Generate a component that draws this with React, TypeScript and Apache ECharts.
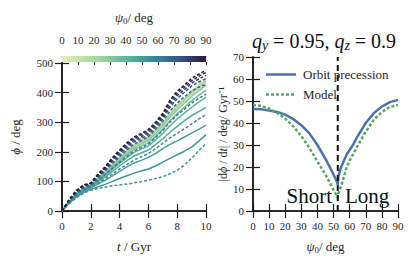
import React, { useEffect, useRef } from "react";
import * as echarts from "echarts";

// ---------- data ----------
const timeGyr = [0, 0.5, 1, 1.5, 2, 2.5, 3, 3.5, 4, 4.5, 5, 5.5, 6, 6.5, 7, 7.5, 8, 8.5, 9, 9.5, 10];

const psi0Values = [2, 9, 16, 23, 30, 36, 42, 46, 49, 51.5, 54, 57, 62, 68, 74, 80, 85, 90];

const phiCurves = [
  [0, 32, 59, 75, 87, 107, 128, 151, 173, 195, 215, 227, 240, 263, 288, 318, 343, 366, 390, 412, 432],
  [0, 32, 60, 76, 88, 109, 131, 154, 177, 199, 219, 232, 245, 268, 294, 325, 351, 374, 398, 420, 440],
  [0, 33, 60, 76, 89, 110, 133, 157, 180, 202, 223, 236, 249, 273, 299, 330, 357, 380, 404, 425, 445],
  [0, 33, 60, 76, 88, 109, 131, 155, 178, 200, 220, 233, 246, 270, 295, 325, 351, 374, 398, 419, 438],
  [0, 32, 59, 75, 87, 107, 128, 151, 173, 194, 214, 226, 239, 262, 287, 317, 342, 364, 387, 407, 425],
  [0, 31, 57, 73, 86, 105, 125, 147, 168, 189, 208, 219, 231, 253, 277, 305, 329, 350, 372, 391, 408],
  [0, 30, 56, 72, 84, 102, 121, 141, 161, 180, 198, 209, 220, 240, 262, 288, 311, 331, 350, 368, 385],
  [0, 29, 54, 70, 82, 98, 115, 134, 152, 170, 186, 196, 206, 224, 244, 266, 286, 305, 322, 336, 350],
  [0, 28, 51, 67, 78, 91, 104, 119, 134, 149, 162, 171, 181, 195, 211, 225, 237, 250, 263, 276, 290],
  [0, 27, 48, 63, 73, 82, 90, 100, 110, 119, 128, 135, 142, 152, 165, 178, 190, 202, 216, 236, 258],
  [0, 25, 45, 60, 70, 76, 81, 85, 88, 91, 95, 99, 104, 110, 116, 126, 138, 155, 178, 204, 228],
  [0, 28, 52, 68, 80, 94, 109, 125, 142, 157, 172, 183, 194, 211, 229, 247, 262, 278, 294, 311, 325],
  [0, 31, 57, 73, 86, 104, 124, 145, 165, 184, 202, 214, 226, 248, 272, 301, 324, 344, 364, 381, 395],
  [0, 34, 61, 78, 90, 112, 135, 160, 183, 206, 226, 238, 251, 276, 303, 338, 364, 386, 405, 418, 428],
  [0, 36, 64, 82, 92, 116, 139, 166, 190, 213, 233, 245, 258, 283, 311, 350, 380, 401, 422, 436, 447],
  [0, 37, 66, 85, 93, 119, 142, 171, 196, 219, 239, 251, 264, 289, 317, 358, 390, 410, 432, 446, 458],
  [0, 38, 68, 86, 94, 122, 146, 176, 201, 225, 245, 257, 270, 295, 324, 367, 398, 418, 440, 455, 468],
  [0, 40, 70, 88, 95, 125, 150, 180, 206, 230, 250, 262, 275, 300, 330, 375, 405, 425, 448, 462, 476],
];

const psiSplit = 52.6;

const precessionPsi = [0, 5, 10, 15, 20, 25, 30, 35, 40, 45, 48, 50, 52, 52.6, 53, 54, 55, 58, 60, 62, 65, 70, 75, 80, 85, 90];
const precessionRate = [46.4, 46.2, 45.7, 45, 43.8, 41.8, 39, 35.3, 30, 23.7, 19.5, 16.5, 13.5, 12, 15.5, 18.5, 20.5, 25.5, 27.7, 30, 34, 40, 44.5, 47.5, 49.5, 50.5];

const modelPsi = [0, 5, 10, 15, 20, 25, 30, 35, 40, 45, 48, 50, 52, 52.6, 53, 55, 58, 60, 65, 70, 75, 80, 85, 90];
const modelRate = [48.2, 47.8, 46.6, 44.6, 42, 38.5, 34, 28.7, 22.5, 16.5, 12.5, 9.5, 7, 6, 8, 12, 19.5, 23, 29.7, 36, 41.5, 45, 47.3, 48.2];

const seriesNames = ["Orbit precession", "Model"];
const regionLabels = ["Short", "Long"];

// ---------- styling ----------
const serif = "Liberation Serif";
const ink = "#1f1f1f";
const cmapStops: [number, string][] = [
  [0, "#e1eabe"],
  [0.15, "#c0e0aa"],
  [0.3, "#95cd9c"],
  [0.45, "#62b49a"],
  [0.55, "#469d98"],
  [0.65, "#3c8296"],
  [0.78, "#37608b"],
  [0.9, "#303a6a"],
  [1, "#281a3a"],
];

function hexToRgb(h: string) {
  const n = parseInt(h.slice(1), 16);
  return [(n >> 16) & 255, (n >> 8) & 255, n & 255];
}
function cmap(f: number) {
  for (let i = 1; i < cmapStops.length; i++) {
    const [p1, c1] = cmapStops[i];
    const [p0, c0] = cmapStops[i - 1];
    if (f <= p1) {
      const r = (f - p0) / (p1 - p0);
      const a = hexToRgb(c0);
      const b = hexToRgb(c1);
      const m = a.map((v, k) => Math.round(v + (b[k] - v) * r));
      return `rgb(${m[0]},${m[1]},${m[2]})`;
    }
  }
  return cmapStops[cmapStops.length - 1][1];
}

const labelStyle = { fontFamily: serif, fontSize: 11, color: ink };
const nameRich = {
  i: { fontFamily: serif, fontSize: 13, fontStyle: "italic", color: ink },
  s: { fontFamily: serif, fontSize: 9, color: ink, padding: [6, 0, 0, 0] },
  n: { fontFamily: serif, fontSize: 13, color: ink },
};
const nameStyle = { fontFamily: serif, fontSize: 13, color: ink, rich: nameRich };

function valueAxis(extra: any) {
  return {
    type: "value",
    axisLine: { show: true, lineStyle: { color: ink, width: 1.6 } },
    axisTick: { show: true, inside: true, length: 7, lineStyle: { color: ink, width: 1.2 } },
    axisLabel: { ...labelStyle, margin: 9 },
    splitLine: { show: false },
    ...extra,
  };
}

const solidIcon = "path://M0,0H30V2.5H0Z";
const dashIcon = "path://M0,0H3V2.5H0Z M5,0H8V2.5H5Z M10,0H13V2.5H10Z M15,0H18V2.5H15Z M20,0H23V2.5H20Z M25,0H28V2.5H25Z M30,0H30.01V2.5H30Z";

export default function App() {
  const ref = useRef<HTMLDivElement>(null);
  useEffect(() => {
    if (!ref.current) return;
    const chart = echarts.init(ref.current, undefined, { renderer: "svg" });

    const curveSeries = psi0Values.map((psi, idx) => ({
      type: "line",
      xAxisIndex: 0,
      yAxisIndex: 0,
      symbol: "none",
      silent: true,
      data: timeGyr.map((t, k) => [t, phiCurves[idx][k]]),
      lineStyle: {
        color: cmap(psi / 90),
        width: 1.5,
        type: psi > psiSplit ? [3, 2] : "solid",
      },
      z: 2,
    }));

    const gradient = new echarts.graphic.LinearGradient(
      0, 0, 1, 0,
      cmapStops.map(([o, c]) => ({ offset: o, color: c }))
    );

    const option: any = {
      animation: false,
      textStyle: { fontFamily: serif },
      grid: [
        { left: 62, top: 63, width: 144, height: 148 },
        { left: 62, top: 56, width: 144, height: 6 },
        { left: 253, top: 57, width: 145, height: 154 },
      ],
      xAxis: [
        valueAxis({
          gridIndex: 0, min: 0, max: 10, interval: 2, position: "bottom",
          name: "{i|t}{n| / Gyr}", nameLocation: "middle", nameGap: 29, nameTextStyle: nameStyle,
        }),
        valueAxis({ gridIndex: 0, min: 0, max: 10, interval: 2, position: "top", axisLabel: { show: false } }),
        {
          type: "value", gridIndex: 1, min: 0, max: 90, interval: 10, position: "top",
          axisLine: { show: true, lineStyle: { color: ink, width: 0.8 } },
          axisTick: { show: false },
          axisLabel: { ...labelStyle, margin: 11 },
          splitLine: { show: false },
          name: "{i|ψ}{s|0}{n|/ deg}", nameLocation: "middle", nameGap: 31, nameTextStyle: nameStyle,
        },
        {
          type: "value", gridIndex: 1, min: 0, max: 90, interval: 10, position: "bottom",
          axisLine: { show: false },
          axisTick: { show: true, inside: false, length: 3, lineStyle: { color: ink, width: 1 } },
          axisLabel: { show: false },
          splitLine: { show: false },
        },
        valueAxis({
          gridIndex: 2, min: 0, max: 90, interval: 10, position: "bottom",
          name: "{i|ψ}{s|0}{n|/ deg}", nameLocation: "middle", nameGap: 28, nameTextStyle: nameStyle,
        }),
        valueAxis({ gridIndex: 2, min: 0, max: 90, interval: 10, position: "top", axisLabel: { show: false } }),
      ],
      yAxis: [
        valueAxis({
          gridIndex: 0, min: 0, max: 500, interval: 100, position: "left",
          name: "{i|ϕ}{n| / deg}", nameLocation: "middle", nameGap: 40, nameRotate: 90, nameTextStyle: nameStyle,
        }),
        valueAxis({ gridIndex: 0, min: 0, max: 500, interval: 100, position: "right", axisLabel: { show: false } }),
        { type: "category", gridIndex: 1, data: ["cb"], show: false },
        valueAxis({
          gridIndex: 2, min: 0, max: 70, interval: 10, position: "left",
          name: "{m||d}{j|ϕ}{m| / d}{j|t}{m|| / deg/ Gyr⁻¹}", nameLocation: "middle", nameGap: 24, nameRotate: 90,
          nameTextStyle: {
            fontFamily: serif, fontSize: 12, color: ink,
            rich: {
              m: { fontFamily: serif, fontSize: 12, color: ink },
              j: { fontFamily: serif, fontSize: 12, fontStyle: "italic", color: ink },
            },
          },
        }),
        valueAxis({ gridIndex: 2, min: 0, max: 70, interval: 10, position: "right", axisLabel: { show: false } }),
      ],
      legend: {
        data: [
          { name: seriesNames[0], icon: solidIcon },
          { name: seriesNames[1], icon: dashIcon },
        ],
        orient: "vertical",
        left: 261,
        top: 63,
        itemWidth: 30,
        itemHeight: 12,
        itemGap: 7,
        textStyle: { fontFamily: serif, fontSize: 13, color: ink, padding: [0, 0, 0, 2] },
      },
      series: [
        ...curveSeries,
        {
          type: "bar",
          xAxisIndex: 2,
          yAxisIndex: 2,
          data: [90],
          barWidth: "100%",
          silent: true,
          itemStyle: { color: gradient },
        },
        {
          name: seriesNames[0],
          type: "line",
          xAxisIndex: 4,
          yAxisIndex: 3,
          symbol: "none",
          data: precessionPsi.map((p, k) => [p, precessionRate[k]]),
          lineStyle: { color: "#4c72b0", width: 2.5 },
          itemStyle: { color: "#4c72b0" },
          z: 3,
        },
        {
          name: seriesNames[1],
          type: "line",
          xAxisIndex: 4,
          yAxisIndex: 3,
          symbol: "none",
          data: modelPsi.map((p, k) => [p, modelRate[k]]),
          lineStyle: { color: "#55a868", width: 2.5, type: [3, 2] },
          itemStyle: { color: "#55a868" },
          z: 4,
        },
        {
          type: "line",
          xAxisIndex: 4,
          yAxisIndex: 3,
          symbol: "none",
          silent: true,
          data: [[psiSplit, 0], [psiSplit, 70]],
          lineStyle: { color: "#111", width: 2, type: [6, 4] },
          z: 5,
        },
      ],
      graphic: [
        {
          type: "text",
          x: 324,
          y: 41,
          style: {
            text: "{i|q}{s|y}{n| = 0.95, }{i|q}{s|z}{n| = 0.9}",
            align: "center",
            verticalAlign: "middle",
            fontFamily: serif,
            fontSize: 20,
            fill: "#111",
            rich: {
              i: { fontFamily: serif, fontSize: 20, fontStyle: "italic", color: "#111" },
              n: { fontFamily: serif, fontSize: 20, color: "#111" },
              s: { fontFamily: serif, fontSize: 14, fontStyle: "italic", color: "#111", padding: [9, 0, 0, 0] },
            },
          },
        },
        {
          type: "text",
          x: 332,
          y: 196,
          z: 10,
          style: { text: regionLabels[0], align: "right", verticalAlign: "middle", fontFamily: serif, fontSize: 21, fill: "#111" },
        },
        {
          type: "text",
          x: 345,
          y: 196,
          z: 10,
          style: { text: regionLabels[1], align: "left", verticalAlign: "middle", fontFamily: serif, fontSize: 21, fill: "#111" },
        },
      ],
    };
    chart.setOption(option);
    return () => chart.dispose();
  }, []);
  return (
    <div
      ref={ref}
      style={{ position: "fixed", left: 0, top: 0, width: 415, height: 267, background: "#fff" }}
    />
  );
}
